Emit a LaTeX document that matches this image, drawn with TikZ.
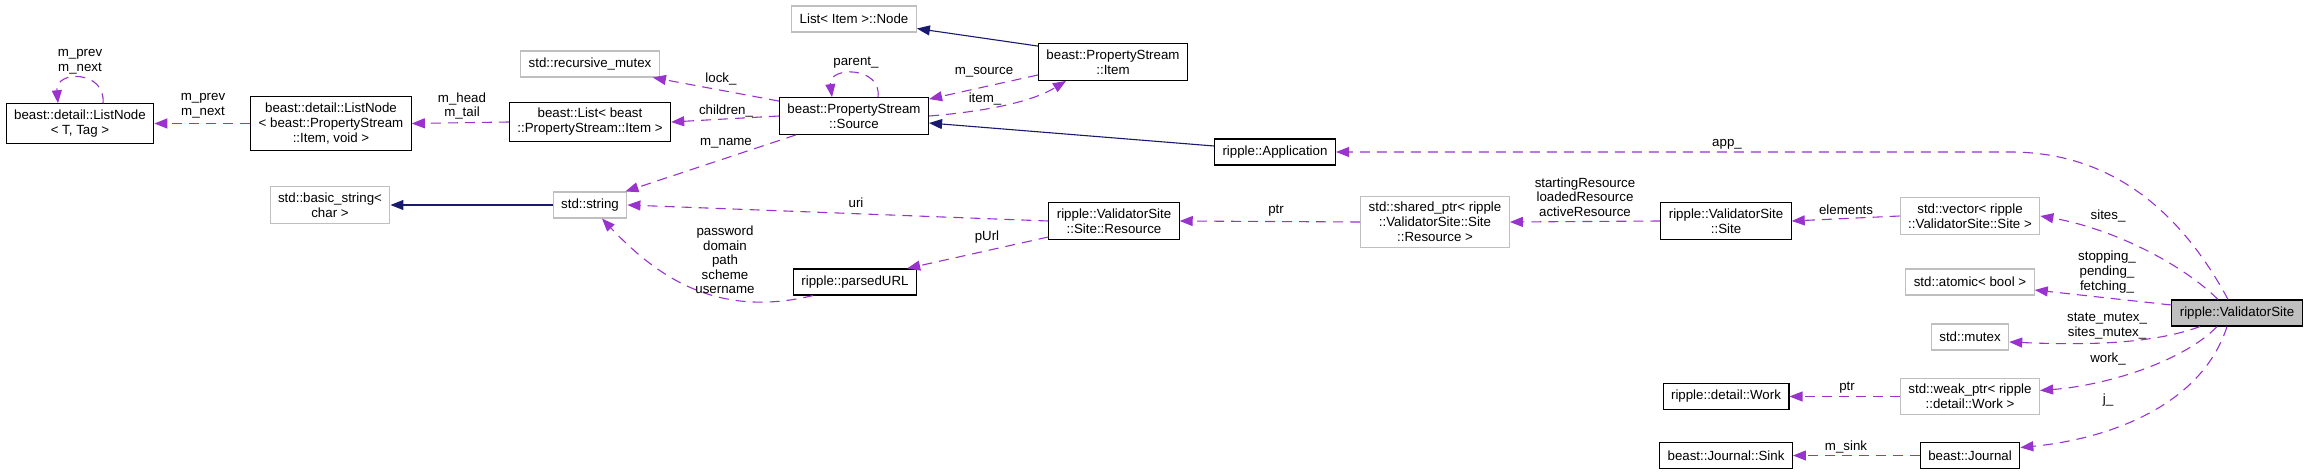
\documentclass[tikz,border=0pt]{standalone}
\usepackage{xcolor}
\usepackage{fontspec}
\setmainfont{Liberation Sans}
\usepackage{tikz}
\usetikzlibrary{arrows.meta, positioning}

\definecolor{edgepurple}{HTML}{9A32CD}
\definecolor{inhblue}{HTML}{191970}
\definecolor{boxgray}{HTML}{BFBFBF}

\begin{document}
\begin{tikzpicture}[x=1pt, y=-1pt]
\tikzstyle{cls} = [rectangle, draw=black, line width=1.1pt, fill=white, align=center, inner xsep=8pt, inner ysep=6pt, minimum height=26pt, font=\fontsize{13.3}{15}\selectfont]
\tikzstyle{extcls} = [cls, draw=boxgray]
\tikzstyle{maincls} = [cls, fill=boxgray]
\tikzstyle{lbl} = [inner sep=0pt, align=center, font=\fontsize{13.3}{14.6}\selectfont]
\tikzstyle{member} = [line width=1.1pt, color=edgepurple, dash pattern=on 10pt off 7pt, -{Triangle[length=13pt,width=10pt]}]
\tikzstyle{inherit} = [line width=1.1pt, color=inhblue, -{Triangle[length=13pt,width=10pt]}]

\useasboundingbox (0,0) rectangle (2309,473);

\node (lnT) [cls] at (80,123.5) {beast::detail::ListNode\\< T, Tag >};
\node (lnItem) [cls] at (331,123.5) {beast::detail::ListNode\\< beast::PropertyStream\\::Item, void >};
\node (list) [cls] at (590,122) {beast::List< beast\\::PropertyStream::Item >};
\node (rmutex) [extcls] at (590,64) {std::recursive\_mutex};
\node (bstring) [extcls] at (330,205) {std::basic\_string<\\char >};
\node (string) [extcls] at (590,205) {std::string};
\node (lnode) [extcls] at (854,19) {List< Item >::Node};
\node (source) [cls] at (854,116) {beast::PropertyStream\\::Source};
\node (purl) [cls] at (855,282) {ripple::parsedURL};
\node (item) [cls] at (1113,62) {beast::PropertyStream\\::Item};
\node (resource) [cls] at (1114,221) {ripple::ValidatorSite\\::Site::Resource};
\node (app) [cls] at (1275,152) {ripple::Application};
\node (sptr) [extcls] at (1435,222) {std::shared\_ptr< ripple\\::ValidatorSite::Site\\::Resource >};
\node (site) [cls] at (1726,221) {ripple::ValidatorSite\\::Site};
\node (work) [cls] at (1726,396.5) {ripple::detail::Work};
\node (sink) [cls] at (1726,455.5) {beast::Journal::Sink};
\node (vec) [extcls] at (1970,216) {std::vector< ripple\\::ValidatorSite::Site >};
\node (atomic) [extcls] at (1970,282) {std::atomic< bool >};
\node (mutex) [extcls] at (1970,337) {std::mutex};
\node (wptr) [extcls] at (1970,396.5) {std::weak\_ptr< ripple\\::detail::Work >};
\node (journal) [cls] at (1970,455.5) {beast::Journal};
\node (vsite) [maincls] at (2237,313) {ripple::ValidatorSite};

\draw [member] ([xshift=23pt]lnT.north) .. controls (106,70) and (55,70) .. ([xshift=-22pt]lnT.north);
\draw [member] (lnItem.west) -- (lnT.east);
\draw [member] (list.west) -- (lnItem.east);
\draw [member] ([yshift=-4pt]source.north west) -- ([xshift=-7pt]rmutex.south east);
\draw [member] (source.west) -- (list.east);
\draw [member] ([xshift=17pt]source.south west) -- ([xshift=-2pt]string.north east);
\draw [member] ([xshift=24pt]source.north) .. controls (882,66) and (828,66) .. ([xshift=-22pt]source.north);
\draw [member] ([yshift=-13pt]item.west) -- ([yshift=-2pt]source.north east);
\draw [member] (source.east) .. controls (980,112) and (1030,103) .. ([xshift=-47pt]item.south);
\draw [inherit] ([yshift=-3pt]item.north west) -- ([yshift=4pt]lnode.south east);
\draw [inherit] ([yshift=6pt]app.west) -- ([yshift=-7pt]source.east);
\draw [member] ([xshift=-9pt]vsite.north) .. controls (2180,210) and (2110,152) .. (2010,152) -- (app.east);
\draw [inherit] (string.west) -- (bstring.east);
\draw [member] (resource.west) -- (string.east);
\draw [member] ([yshift=-16pt]resource.west) -- ([xshift=-10pt]purl.north east);
\draw [member] ([xshift=-42pt]purl.south) .. controls (720,318) and (660,280) .. ([xshift=12pt]string.south);
\draw [member] (sptr.west) -- (resource.east);
\draw [member] (site.west) -- (sptr.east);
\draw [member] (vec.west) -- (site.east);
\draw [member] ([xshift=-19pt]vsite.north) .. controls (2180,262) and (2110,228) .. (vec.east);
\draw [member] ([yshift=8pt]vsite.west) -- ([yshift=-8pt]atomic.east);
\draw [member] ([xshift=-37pt]vsite.south) .. controls (2150,345) and (2080,345) .. ([yshift=-5pt]mutex.east);
\draw [member] ([xshift=-20pt]vsite.south) .. controls (2185,360) and (2110,385) .. ([yshift=6pt]wptr.east);
\draw [member] (wptr.west) -- (work.east);
\draw [member] ([xshift=-10pt]vsite.south) .. controls (2200,410) and (2100,440) .. ([yshift=8pt]journal.east);
\draw [member] (journal.west) -- (sink.east);

\node (lblLnSelf) [lbl] at (80,62) {m\_prev\\m\_next};
\node (lblLnLink) [lbl] at (203,106) {m\_prev\\m\_next};
\node (lblList) [lbl] at (462,106) {m\_head\\m\_tail};
\node (lblLock) [lbl] at (721,79) {lock\_};
\node (lblChildren) [lbl] at (726,111) {children\_};
\node (lblName) [lbl] at (726,143) {m\_name};
\node (lblParent) [lbl] at (856,63) {parent\_};
\node (lblSource) [lbl] at (984,72) {m\_source};
\node (lblItem) [lbl] at (985,99) {item\_};
\node (lblApp) [lbl] at (1727,144) {app\_};
\node (lblUri) [lbl] at (856,203) {uri};
\node (lblPurl) [lbl] at (987,237) {pUrl};
\node (lblUrl) [lbl] at (725,260) {password\\domain\\path\\scheme\\username};
\node (lblPtrRes) [lbl] at (1276,211) {ptr};
\node (lblRes) [lbl] at (1585,197) {startingResource\\loadedResource\\activeResource};
\node (lblElem) [lbl] at (1846,210) {elements};
\node (lblSites) [lbl] at (2108,216) {sites\_};
\node (lblFlags) [lbl] at (2107,272) {stopping\_\\pending\_\\fetching\_};
\node (lblMutex) [lbl] at (2107,326) {state\_mutex\_\\sites\_mutex\_};
\node (lblWork) [lbl] at (2108,359) {work\_};
\node (lblPtrWork) [lbl] at (1847,388) {ptr};
\node (lblJ) [lbl] at (2108,400) {j\_};
\node (lblSink) [lbl] at (1846,447) {m\_sink};
\end{tikzpicture}
\end{document}
